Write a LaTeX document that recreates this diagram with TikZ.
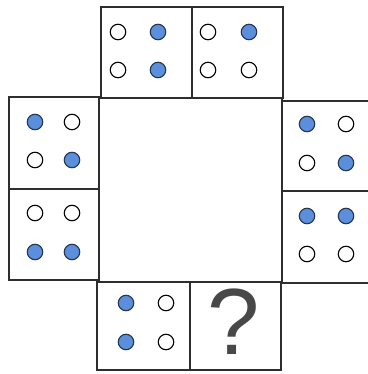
\documentclass[tikz,border=0pt]{standalone}
\usepackage{fontspec}
\setmainfont{Liberation Sans}
\definecolor{dotblue}{HTML}{5B8FDB}
\definecolor{dotedge}{HTML}{263650}
\definecolor{gridline}{HTML}{2E2E2E}
\definecolor{qgray}{HTML}{484848}
\begin{document}
\begin{tikzpicture}[x=1pt,y=-1pt,
  cell/.style={draw=gridline,line width=1.1pt},
  od/.style={circle,draw=black,line width=1.1pt,fill=white,minimum size=15.5pt,inner sep=0pt},
  fd/.style={circle,draw=dotedge,line width=1.1pt,fill=dotblue,minimum size=15.5pt,inner sep=0pt}]
\useasboundingbox (0,0) rectangle (367,374);
% central square
\draw[cell] (99,98) rectangle (282,282);
% top boxes
\draw[cell] (101,7) rectangle (192,98);
\draw[cell] (192,7) rectangle (283,98);
% left boxes
\draw[cell] (9,97) rectangle (99,189);
\draw[cell] (9,189) rectangle (99,280);
% right boxes
\draw[cell] (282,101) rectangle (374,191);
\draw[cell] (282,191) rectangle (374,283);
% bottom boxes
\draw[cell] (97,282) rectangle (190,370);
\draw[cell] (190,282) rectangle (281,370);
% top-left box
\node[od] (t1a) at (118,32) {};
\node[fd] (t1b) at (158,32) {};
\node[od] (t1c) at (118,70) {};
\node[fd] (t1d) at (158,70) {};
% top-right box
\node[od] (t2a) at (208,32) {};
\node[fd] (t2b) at (249,32) {};
\node[od] (t2c) at (208,70) {};
\node[od] (t2d) at (249,70) {};
% left upper box
\node[fd] (l1a) at (35,122) {};
\node[od] (l1b) at (72,122) {};
\node[od] (l1c) at (35,160) {};
\node[fd] (l1d) at (72,160) {};
% left lower box
\node[od] (l2a) at (35,213) {};
\node[od] (l2b) at (72,213) {};
\node[fd] (l2c) at (35,252) {};
\node[fd] (l2d) at (72,252) {};
% right upper box
\node[fd] (r1a) at (307,124) {};
\node[od] (r1b) at (346,124) {};
\node[od] (r1c) at (307,163) {};
\node[fd] (r1d) at (346,163) {};
% right lower box
\node[fd] (r2a) at (307,216) {};
\node[fd] (r2b) at (346,216) {};
\node[od] (r2c) at (307,254) {};
\node[od] (r2d) at (346,254) {};
% bottom-left box
\node[fd] (b1a) at (126,303) {};
\node[od] (b1b) at (166,303) {};
\node[fd] (b1c) at (126,342) {};
\node[od] (b1d) at (166,342) {};
% question mark
\node[text=qgray,inner sep=0pt,font=\fontsize{94}{94}\selectfont] (q) at (234,322) {?};
\end{tikzpicture}
\end{document}
